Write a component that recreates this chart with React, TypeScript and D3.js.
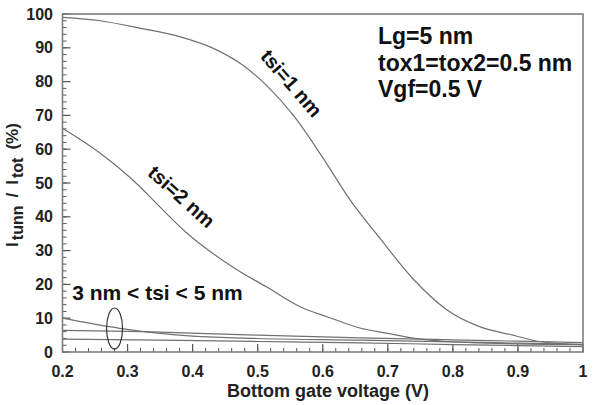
import React from "react";
import * as d3 from "d3";

type Pt = [number, number];

// Bottom gate voltage (V) vs I_tunn / I_tot (%)
const tsi1: Pt[] = [
  [0.2, 99], [0.258, 98], [0.319, 95.8], [0.38, 93.3], [0.431, 89.9], [0.473, 85.4],
  [0.514, 78.8], [0.554, 70.2], [0.6, 57.5], [0.642, 45], [0.688, 33.6], [0.739, 21.6],
  [0.79, 12.6], [0.841, 7.5], [0.892, 5], [0.933, 3.1], [1.0, 2.1],
];
const tsi2: Pt[] = [
  [0.2, 66.2], [0.258, 58.8], [0.319, 48.9], [0.339, 45], [0.391, 35.2], [0.462, 25.1],
  [0.514, 19.2], [0.566, 13.3], [0.61, 10.2], [0.657, 7.1], [0.7, 5.5], [0.739, 4.1],
  [0.79, 3.1], [0.841, 2.7], [0.9, 2.4], [1.0, 2.2],
];
const tsi3: Pt[] = [
  [0.2, 10], [0.288, 7], [0.35, 5.5], [0.4, 4.7], [0.5, 4.0], [0.657, 3.5],
  [0.8, 3.0], [0.9, 2.6], [1.0, 2.3],
];
const tsi4: Pt[] = [
  [0.2, 6.4], [0.325, 6.0], [0.5, 5.0], [0.657, 4.2], [0.8, 3.6], [0.9, 3.2], [1.0, 2.8],
];
const tsi5: Pt[] = [
  [0.2, 3.8], [0.35, 3.5], [0.5, 3.1], [0.657, 2.7], [0.8, 2.2], [0.9, 1.9], [1.0, 1.6],
];
const seriesList: Pt[][] = [tsi1, tsi2, tsi3, tsi4, tsi5];

const xTicks = [0.2, 0.3, 0.4, 0.5, 0.6, 0.7, 0.8, 0.9, 1.0];
const xTickLabels = ["0.2", "0.3", "0.4", "0.5", "0.6", "0.7", "0.8", "0.9", "1"];
const yTicks = [0, 10, 20, 30, 40, 50, 60, 70, 80, 90, 100];
const yTickLabels = ["0", "10", "20", "30", "40", "50", "60", "70", "80", "90", "100"];
const xMinor = d3.range(0, 41).map((i) => 0.2 + i * 0.02);
const yMinor = d3.range(0, 51).map((i) => i * 2);

const infoLines = ["Lg=5 nm", "tox1=tox2=0.5 nm", "Vgf=0.5 V"];

const W = 596;
const H = 405;
const M = { left: 62.5, right: 583, top: 14, bottom: 352 };
const FONT = "'Liberation Sans', Arial, sans-serif";

export default function App() {
  const x = d3.scaleLinear().domain([0.2, 1.0]).range([M.left, M.right]);
  const y = d3.scaleLinear().domain([0, 100]).range([M.bottom, M.top]);
  const line = d3
    .line<Pt>()
    .x((d) => x(d[0]))
    .y((d) => y(d[1]))
    .curve(d3.curveMonotoneX);

  const tickColor = "#555";
  const lineColor = "#707070";

  return (
    <svg
      width={W}
      height={H}
      style={{ position: "absolute", left: 0, top: 0, background: "#fff" }}
      fontFamily={FONT}
    >
      <rect x={0} y={0} width={W} height={H} fill="#fff" />
      {/* minor ticks */}
      {xMinor.map((v, i) => (
        <line key={"xm" + i} x1={x(v)} x2={x(v)} y1={M.bottom} y2={M.bottom - 4} stroke={tickColor} strokeWidth={1} />
      ))}
      {yMinor.map((v, i) => (
        <line key={"ym" + i} x1={M.left} x2={M.left + 4} y1={y(v)} y2={y(v)} stroke={tickColor} strokeWidth={1} />
      ))}
      {xTicks.map((v, i) => (
        <line key={"xM" + i} x1={x(v)} x2={x(v)} y1={M.bottom} y2={M.bottom - 8} stroke={tickColor} strokeWidth={1.2} />
      ))}
      {yTicks.map((v, i) => (
        <line key={"yM" + i} x1={M.left} x2={M.left + 8} y1={y(v)} y2={y(v)} stroke={tickColor} strokeWidth={1.2} />
      ))}

      {/* series */}
      {seriesList.map((s, i) => (
        <path key={"s" + i} d={line(s) || ""} fill="none" stroke={lineColor} strokeWidth={1.2} />
      ))}

      {/* frame */}
      <rect
        x={M.left}
        y={M.top}
        width={M.right - M.left}
        height={M.bottom - M.top}
        fill="none"
        stroke="#7d7d7d"
        strokeWidth={1.6}
      />

      {/* tick labels */}
      {xTicks.map((v, i) => (
        <text key={"xl" + i} x={x(v)} y={377} textAnchor="middle" fontSize={16} fontWeight="bold" fill="#222">
          {xTickLabels[i]}
        </text>
      ))}
      {yTicks.map((v, i) => (
        <text key={"yl" + i} x={53} y={y(v) + 5.5} textAnchor="end" fontSize={16} fontWeight="bold" fill="#222">
          {yTickLabels[i]}
        </text>
      ))}

      {/* axis titles */}
      <text x={328} y={397} textAnchor="middle" fontSize={18} fontWeight="bold" fill="#222">
        Bottom gate voltage (V)
      </text>
      <text
        transform="translate(18,185) rotate(-90)"
        textAnchor="middle"
        fontSize={17}
        fontWeight="bold"
        fill="#222"
      >
        <tspan>I</tspan>
        <tspan dy={5} dx={2} fontSize={16}>tunn</tspan>
        <tspan dy={-5} dx={8}>/</tspan>
        <tspan dx={8}>I</tspan>
        <tspan dy={5} dx={2} fontSize={16}>tot</tspan>
        <tspan dy={-5} dx={8}>(%)</tspan>
      </text>

      {/* annotations */}
      {infoLines.map((t, i) => (
        <text key={"info" + i} x={378} y={44 + i * 26.5} fontSize={23} fontWeight="bold" fill="#111">
          {t}
        </text>
      ))}
      <text
        transform={`translate(${x(0.552)},${y(79.5)}) rotate(49)`}
        textAnchor="middle"
        dominantBaseline="central"
        fontSize={20}
        fontWeight="bold"
        fill="#111"
      >
        tsi=1 nm
      </text>
      <text
        transform={`translate(${x(0.383)},${y(46)}) rotate(42)`}
        textAnchor="middle"
        dominantBaseline="central"
        fontSize={20}
        fontWeight="bold"
        fill="#111"
      >
        tsi=2 nm
      </text>
      <text x={x(0.215)} y={y(15.4)} fontSize={21} fontWeight="bold" fill="#111">
        3 nm &lt; tsi &lt; 5 nm
      </text>
      <ellipse
        cx={x(0.28)}
        cy={y(6.95)}
        rx={x(0.2123) - x(0.2)}
        ry={y(0) - y(6.07)}
        fill="none"
        stroke="#333"
        strokeWidth={1.2}
      />
    </svg>
  );
}
